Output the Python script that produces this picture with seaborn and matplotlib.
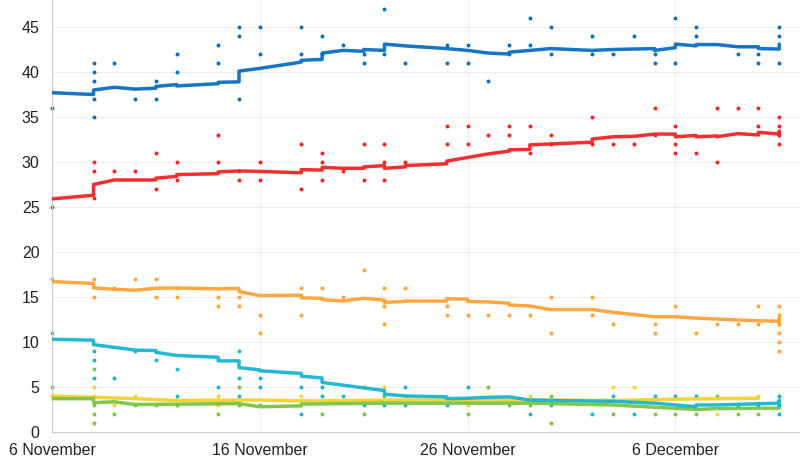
import pandas as pd
import numpy as np
import seaborn as sns
import matplotlib.pyplot as plt

# days counted from 6 November 2019
tick_days = [0, 10, 20, 30]
tick_labels = ["6 November", "16 November", "26 November", "6 December"]

# individual polls: (day, value)
con_polls = [(0, 36), (2, 41), (2, 40), (2, 39), (2, 37), (2, 35), (3, 41), (4, 37), (5, 39), (5, 37),
             (6, 42), (6, 40), (8, 43), (8, 41), (9, 45), (9, 44), (9, 37), (10, 45), (10, 42),
             (12, 45), (12, 42), (13, 44), (13, 42), (14, 43), (15, 42), (15, 41), (16, 47), (16, 42),
             (17, 41), (19, 43), (19, 41), (20, 43), (20, 41), (21, 39), (22, 43), (22, 42),
             (23, 46), (23, 43), (24, 45), (24, 42), (26, 44), (26, 42), (27, 42), (28, 44),
             (29, 42), (29, 41), (30, 46), (30, 41), (31, 45), (31, 44), (33, 42), (34, 42), (34, 41),
             (35, 45), (35, 44), (35, 41)]
lab_polls = [(0, 25), (2, 30), (2, 29), (2, 26), (3, 29), (4, 29), (5, 31), (5, 27), (6, 30), (6, 28),
             (8, 33), (8, 30), (9, 29), (9, 28), (10, 30), (10, 28), (12, 32), (12, 27), (13, 31),
             (13, 30), (13, 28), (14, 29), (15, 32), (15, 28), (16, 32), (16, 30), (16, 28), (17, 30),
             (19, 34), (19, 32), (20, 34), (20, 32), (21, 33), (22, 34), (22, 33), (23, 34), (23, 31),
             (24, 33), (24, 32), (26, 35), (26, 32), (27, 32), (28, 32), (29, 36), (29, 33),
             (30, 34), (30, 32), (30, 31), (31, 31), (32, 36), (32, 30), (33, 36), (34, 36), (34, 34),
             (35, 35), (35, 34), (35, 33), (35, 32)]
ld_polls = [(0, 17), (2, 17), (2, 15), (3, 16), (4, 17), (5, 17), (5, 15), (6, 16), (6, 15), (8, 15),
            (8, 14), (9, 15), (9, 14), (10, 13), (10, 11), (12, 16), (12, 13), (13, 16), (14, 15),
            (15, 18), (16, 16), (16, 14), (16, 12), (17, 16), (19, 14), (19, 13), (20, 13), (21, 13),
            (22, 13), (23, 13), (24, 15), (24, 11), (26, 15), (26, 13), (27, 12), (29, 12), (29, 11),
            (30, 14), (31, 11), (32, 12), (33, 12), (34, 14), (34, 12),
            (35, 14), (35, 13), (35, 12), (35, 11), (35, 10), (35, 9)]
bxp_polls = [(0, 11), (2, 9), (2, 8), (2, 6), (3, 6), (4, 9), (5, 8), (6, 7), (6, 4), (8, 5), (9, 9),
             (9, 6), (9, 4), (10, 6), (10, 5), (12, 5), (12, 2), (13, 5), (13, 4), (14, 4), (15, 3),
             (16, 3), (17, 5), (17, 3), (19, 3), (20, 5), (23, 2), (24, 3), (26, 2), (27, 4), (28, 2),
             (29, 4), (30, 4), (31, 4), (33, 3), (34, 3), (35, 4), (35, 3), (35, 2)]
grn_polls = [(0, 5), (2, 7), (2, 3), (2, 2), (2, 1), (3, 2), (4, 3), (5, 3), (6, 3), (8, 2), (9, 5),
             (9, 3), (10, 3), (13, 2), (15, 5), (15, 2), (16, 4), (20, 2), (21, 5), (22, 3), (23, 3),
             (24, 4), (24, 1), (27, 2), (29, 2), (30, 2), (31, 2), (32, 4), (33, 2), (34, 2)]
snp_polls = [(0, 4), (2, 5), (2, 4), (3, 3), (4, 4), (8, 4), (8, 3), (12, 4), (16, 5), (17, 4),
             (20, 3), (23, 4), (27, 5), (28, 5), (32, 2), (34, 4), (35, 4)]

# rolling average trend lines (repeated days give the steps)
con_trend = [(0, 37.7), (2, 37.5), (2, 38.0), (3, 38.3), (4, 38.1), (5, 38.2), (5, 38.4), (6, 38.6),
             (6, 38.45), (8, 38.7), (8, 38.85), (9, 38.9), (9, 40.1), (10, 40.4), (12, 41.1),
             (12, 41.3), (13, 41.4), (13, 42.1), (14, 42.4), (15, 42.3), (15, 42.5), (16, 42.4),
             (16, 43.1), (17, 42.9), (19, 42.6), (20, 42.4), (21, 42.1), (22, 42.0), (22, 42.2),
             (23, 42.4), (24, 42.6), (26, 42.4), (27, 42.5), (29, 42.6), (29, 42.4), (30, 42.7),
             (30, 43.1), (31, 42.9), (31, 43.05), (32, 43.05), (33, 42.8), (34, 42.8), (34, 42.6),
             (35, 42.55), (35, 43.1)]
lab_trend = [(0, 25.9), (2, 26.3), (2, 27.5), (3, 28.0), (5, 28.0), (5, 28.2), (6, 28.4), (6, 28.6),
             (8, 28.7), (8, 28.9), (9, 29.0), (10, 28.95), (12, 28.8), (12, 29.15), (13, 29.1),
             (13, 29.4), (14, 29.3), (15, 29.3), (15, 29.45), (16, 29.6), (16, 29.3), (17, 29.45),
             (17, 29.6), (19, 29.8), (19, 30.1), (20, 30.5), (21, 30.9), (22, 31.2), (22, 31.35),
             (23, 31.4), (23, 31.9), (24, 32.0), (26, 32.2), (26, 32.55), (27, 32.8), (28, 32.85),
             (29, 33.1), (30, 33.1), (30, 32.8), (31, 32.95), (31, 32.8), (32, 32.9), (32, 32.8),
             (33, 33.15), (34, 33.0), (34, 33.3), (35, 33.1), (35, 33.4), (35, 32.9)]
ld_trend = [(0, 16.7), (2, 16.5), (2, 16.0), (3, 15.85), (4, 15.75), (5, 15.97), (6, 16.0), (8, 15.9),
            (9, 15.95), (9, 15.6), (10, 15.15), (12, 15.2), (12, 14.9), (13, 14.85), (13, 14.7),
            (14, 14.55), (15, 14.85), (16, 14.65), (16, 14.4), (17, 14.5), (17, 14.55), (19, 14.55),
            (19, 14.8), (20, 14.75), (20, 14.5), (21, 14.45), (22, 14.3), (22, 14.1), (23, 14.0),
            (24, 13.6), (26, 13.6), (27, 13.3), (28, 13.05), (29, 12.8), (30, 12.8), (31, 12.65),
            (32, 12.55), (33, 12.45), (34, 12.35), (35, 12.3), (35, 12.6), (35, 11.9)]
bxp_trend = [(0, 10.3), (2, 10.2), (2, 9.7), (4, 9.1), (5, 9.05), (5, 8.85), (6, 8.5), (8, 8.3),
             (8, 7.9), (9, 7.9), (9, 7.15), (10, 6.9), (10, 6.8), (12, 6.5), (12, 6.2), (13, 6.0),
             (13, 5.5), (14, 5.2), (15, 4.9), (16, 4.6), (16, 4.2), (17, 4.0), (19, 3.9), (19, 3.7),
             (20, 3.75), (21, 3.85), (22, 3.9), (23, 3.55), (24, 3.5), (27, 3.4), (29, 3.2),
             (30, 3.0), (31, 2.8), (31, 3.0), (32, 3.0), (35, 3.2), (35, 3.5), (35, 2.9)]
grn_trend = [(0, 3.7), (2, 3.7), (2, 3.25), (3, 3.35), (4, 3.05), (9, 3.15), (10, 2.8), (12, 2.9),
             (12, 3.1), (16, 3.2), (23, 3.2), (27, 3.0), (29, 2.75), (31, 2.5), (32, 2.6), (35, 2.65)]
snp_trend = [(0, 4.0), (2, 3.85), (4, 3.7), (6, 3.5), (10, 3.55), (12, 3.45), (17, 3.55), (24, 3.55),
             (27, 3.5), (29, 3.6), (30, 3.65), (34, 3.75), (34, 3.95)]

colors = {"snp": "#f2d22e", "grn": "#78c443", "bxp": "#1ab4d0", "ld": "#ffa437",
          "lab": "#f52424", "con": "#0a6ec0"}

parties = [("snp", snp_polls, snp_trend), ("grn", grn_polls, grn_trend),
           ("ld", ld_polls, ld_trend), ("bxp", bxp_polls, bxp_trend),
           ("lab", lab_polls, lab_trend), ("con", con_polls, con_trend)]

sns.set_style("white")
plt.rcParams['font.family'] = ['Liberation Sans', 'DejaVu Sans']

fig = plt.figure(figsize=(8, 4.61), dpi=100)
ax = fig.add_axes([0.065, 0.063, 0.935, 0.937])

for name, polls, trend in parties:
    p = pd.DataFrame(polls, columns=["day", "value"])
    sns.scatterplot(data=p, x="day", y="value", color=colors[name], s=8, linewidth=0, ax=ax,
                    zorder=2, clip_on=False)

for name, polls, trend in parties:
    t = pd.DataFrame(trend, columns=["day", "value"])
    sns.lineplot(data=t, x="day", y="value", color=colors[name], estimator=None, sort=False,
                 linewidth=2.5, alpha=0.95, ax=ax, zorder=3)

ax.set_xlim(0, 36)
ax.set_ylim(0, 48)
ax.set_yticks(range(0, 50, 5))
ax.set_xticks(tick_days)
ax.set_xticklabels(tick_labels)
ax.set_xticks(range(0, 36), minor=True)
ax.set_xlabel("")
ax.set_ylabel("")

ax.grid(True, color="#eeeeee", linewidth=0.8)
ax.set_axisbelow(True)
for s in ["top", "right"]:
    ax.spines[s].set_visible(False)
ax.spines["left"].set_color("#cccccc")
ax.spines["bottom"].set_color("#cccccc")
ax.tick_params(axis="both", which="both", direction="out", color="#cccccc", labelsize=11.5,
               labelcolor="#222222")
ax.tick_params(axis="x", which="major", length=5, pad=3)
ax.tick_params(axis="x", which="minor", length=5)
ax.tick_params(axis="y", length=5, pad=4)

fig.savefig("out.png", dpi=100)
